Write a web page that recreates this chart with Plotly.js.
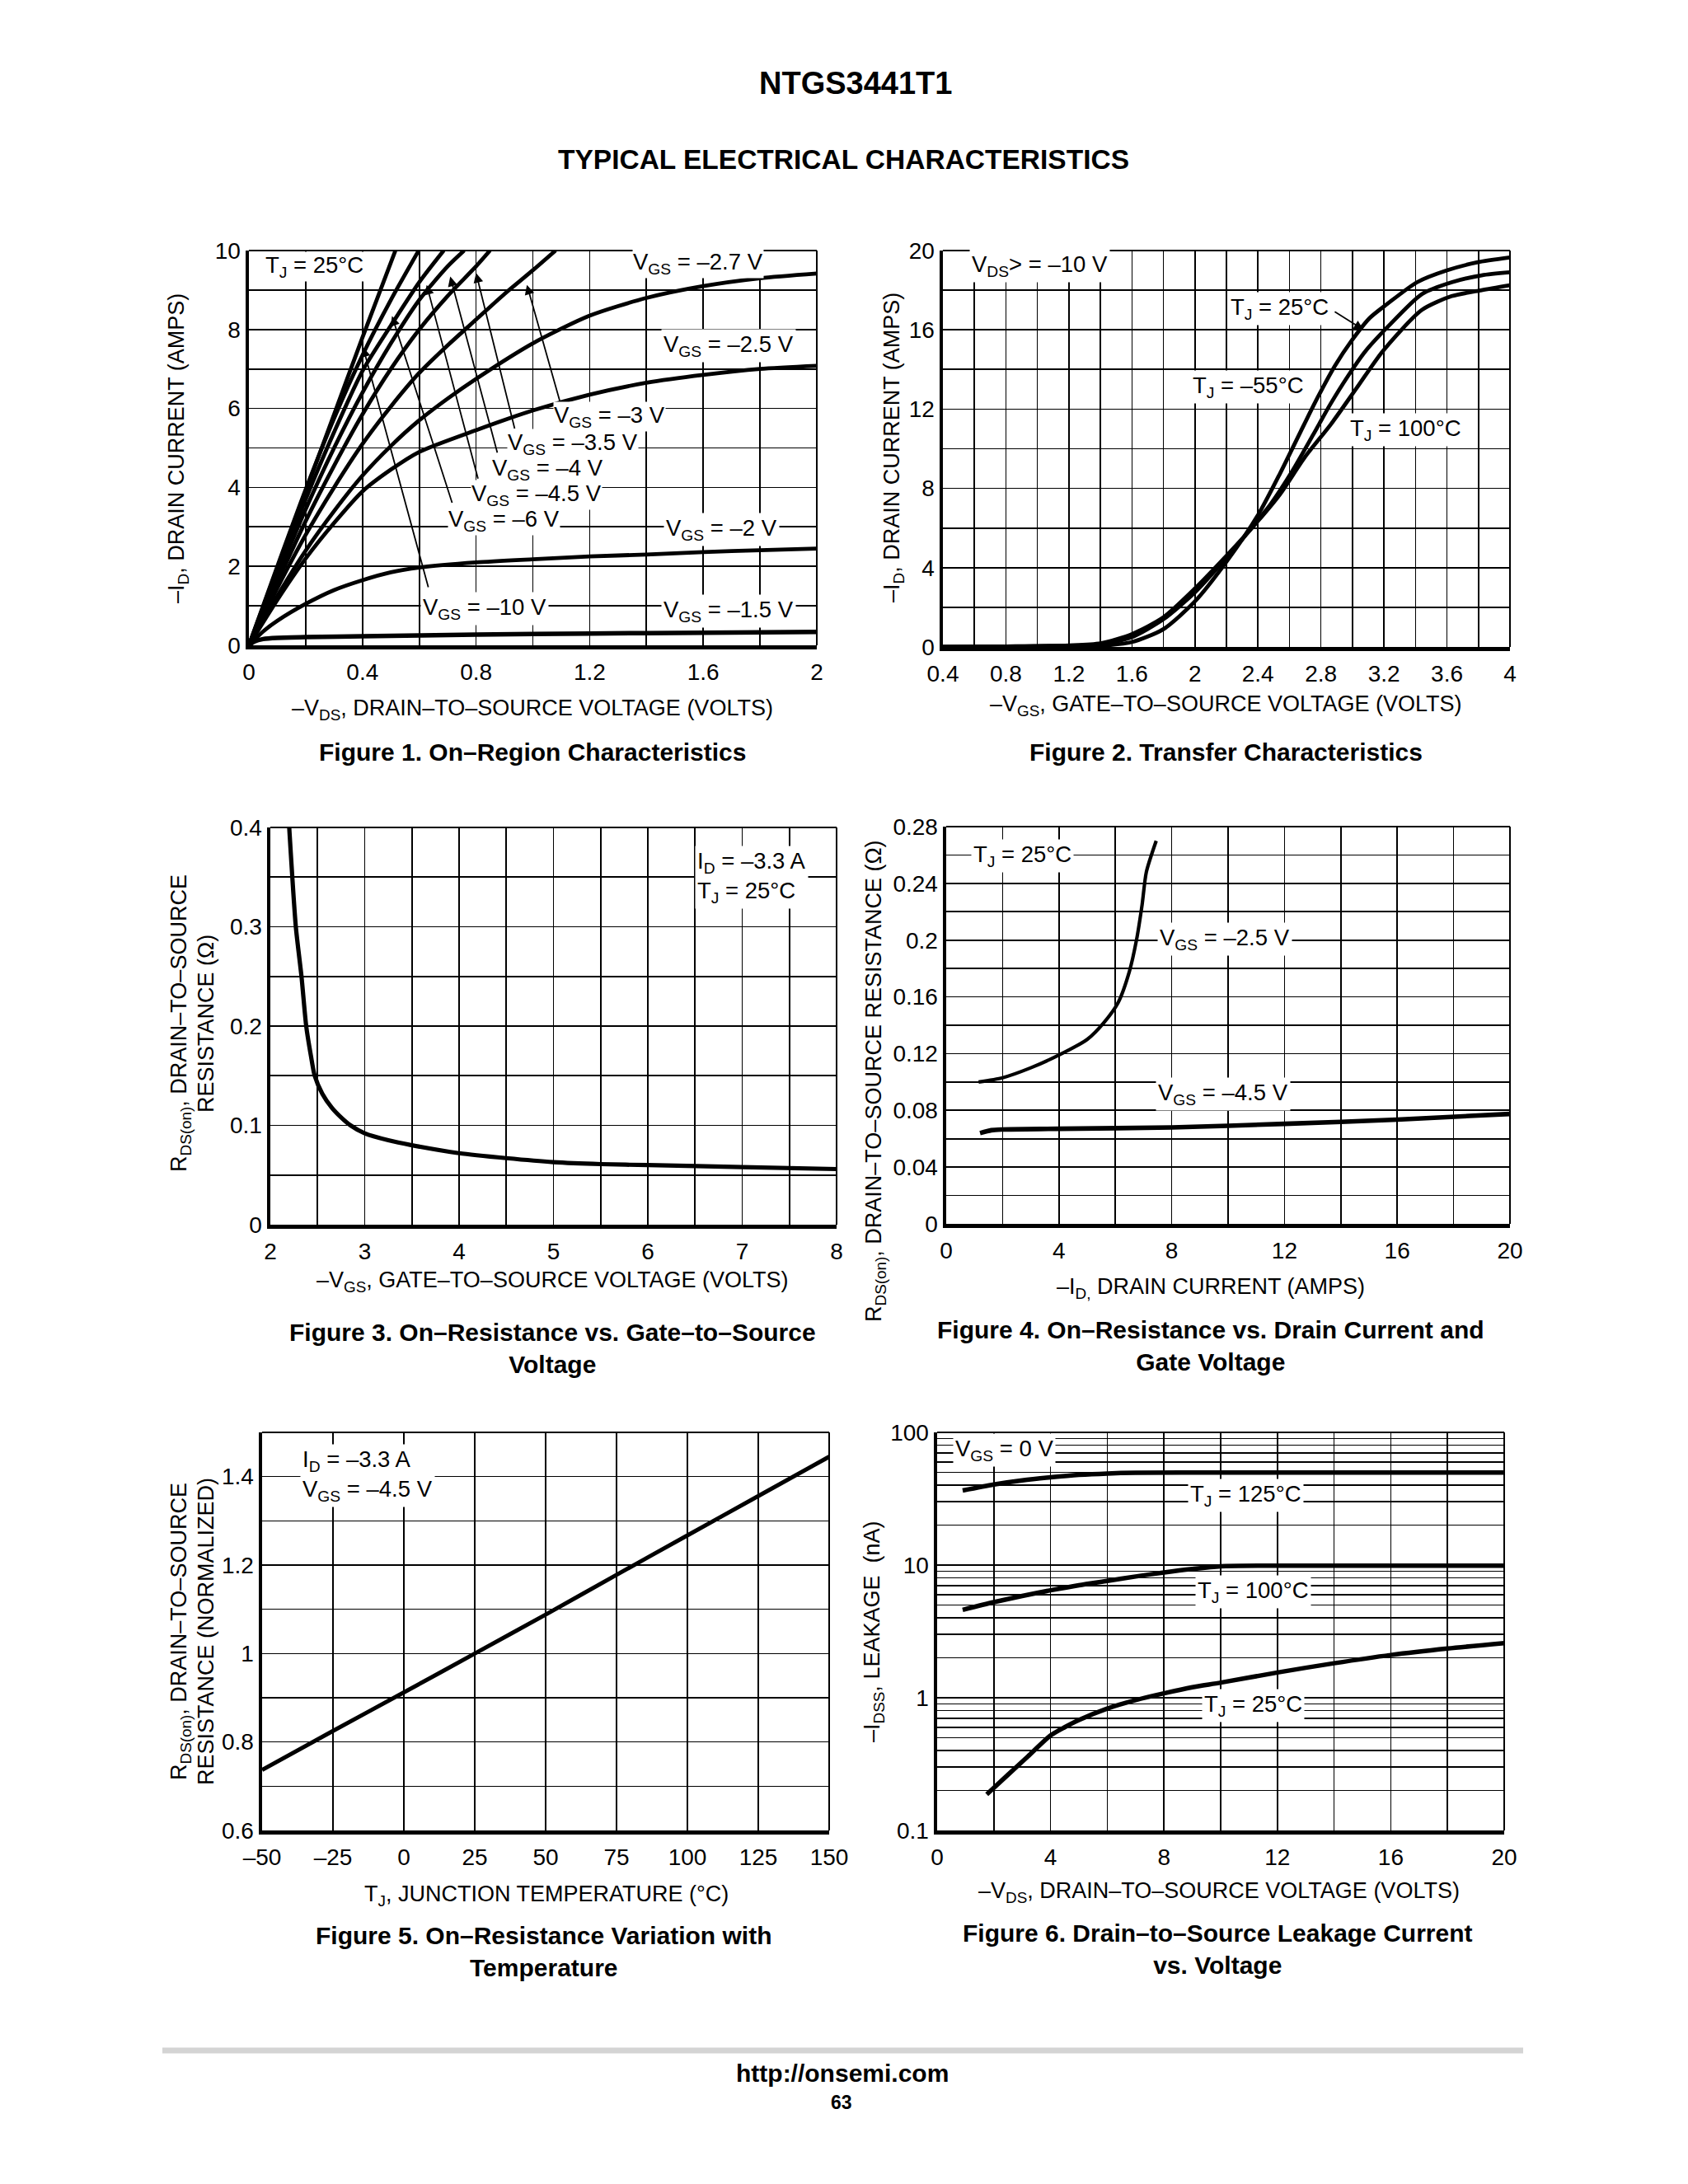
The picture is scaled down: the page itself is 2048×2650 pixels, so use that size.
<!DOCTYPE html>
<html>
<head>
<meta charset="utf-8">
<script src="https://cdn.plot.ly/plotly-3.0.1.min.js"></script>
<style>html,body{margin:0;padding:0;background:#fff;}#chart{width:2048px;height:2650px;}</style>
</head>
<body>
<div id="chart"></div>
<script>
const W = 2048, H = 2650;
const px = v => v / W;
const py = v => 1 - v / H;

// ---------- Figure 1: On-Region Characteristics (T_J = 25 C) ----------
const f1_vds_m10  = [0, 0.1, 0.2, 0.3, 0.4, 0.516];
const f1_id_m10   = [0, 1.95, 3.9, 5.85, 7.8, 10];
const f1_vds_m6   = [0, 0.1, 0.2, 0.3, 0.4, 0.5, 0.598];
const f1_id_m6    = [0, 2.0, 3.95, 5.75, 7.35, 8.75, 10];
const f1_vds_m45  = [0, 0.1, 0.2, 0.3, 0.4, 0.5, 0.6, 0.686];
const f1_id_m45   = [0, 1.85, 3.7, 5.4, 6.95, 8.1, 9.2, 10];
const f1_vds_m4   = [0, 0.1, 0.2, 0.3, 0.4, 0.5, 0.6, 0.7, 0.758];
const f1_id_m4    = [0, 1.75, 3.45, 5.0, 6.4, 7.65, 8.75, 9.6, 10];
const f1_vds_m35  = [0, 0.1, 0.2, 0.3, 0.4, 0.5, 0.6, 0.7, 0.8, 0.849];
const f1_id_m35   = [0, 1.6, 3.15, 4.55, 5.85, 7.0, 8.0, 8.85, 9.6, 10];
const f1_vds_m3   = [0, 0.1, 0.2, 0.3, 0.4, 0.5, 0.6, 0.7, 0.8, 0.9, 1.0, 1.08];
const f1_id_m3    = [0, 1.45, 2.8, 4.0, 5.1, 6.05, 6.9, 7.6, 8.25, 8.9, 9.5, 10];
const f1_vds_m27  = [0, 0.1, 0.2, 0.3, 0.4, 0.5, 0.6, 0.7, 0.8, 1.0, 1.2, 1.4, 1.6, 1.8, 2.0];
const f1_id_m27   = [0, 1.25, 2.4, 3.4, 4.3, 5.05, 5.7, 6.25, 6.75, 7.65, 8.35, 8.8, 9.1, 9.3, 9.42];
const f1_vds_m25  = [0, 0.1, 0.2, 0.3, 0.4, 0.5, 0.6, 0.8, 1.0, 1.2, 1.4, 1.6, 1.8, 2.0];
const f1_id_m25   = [0, 1.15, 2.2, 3.1, 3.9, 4.45, 4.9, 5.45, 5.95, 6.35, 6.65, 6.85, 7.0, 7.08];
const f1_vds_m2   = [0, 0.05, 0.1, 0.2, 0.3, 0.4, 0.5, 0.6, 0.8, 1.0, 1.2, 1.4, 1.6, 1.8, 2.0];
const f1_id_m2    = [0, 0.35, 0.62, 1.05, 1.4, 1.65, 1.85, 1.97, 2.1, 2.18, 2.25, 2.3, 2.36, 2.41, 2.45];
const f1_vds_m15  = [0, 0.02, 0.05, 0.1, 0.2, 0.4, 0.8, 1.2, 1.6, 2.0];
const f1_id_m15   = [0, 0.1, 0.16, 0.19, 0.21, 0.23, 0.27, 0.3, 0.32, 0.34];

const f1_xticks = [0, 0.4, 0.8, 1.2, 1.6, 2];
const f1_xlabels = ['0', '0.4', '0.8', '1.2', '1.6', '2'];
const f1_xminor = [0.2, 0.6, 1.0, 1.4, 1.8];
const f1_yticks = [0, 2, 4, 6, 8, 10];
const f1_ylabels = ['0', '2', '4', '6', '8', '10'];
const f1_yminor = [1, 3, 5, 7, 9];

// ---------- Figure 2: Transfer Characteristics ----------
const f2_vgs_m55 = [0.4, 0.8, 1.2, 1.4, 1.6, 1.8, 2.0, 2.2, 2.4, 2.54, 2.67, 2.78, 2.89, 2.99, 3.11, 3.22, 3.41, 3.6, 3.79, 4.0];
const f2_id_m55  = [0, 0.01, 0.04, 0.06, 0.25, 0.9, 2.3, 4.3, 6.65, 8.75, 10.85, 12.6, 14.2, 15.4, 16.6, 17.3, 18.4, 19.0, 19.4, 19.65];
const f2_vgs_25  = [0.4, 0.8, 1.2, 1.4, 1.6, 1.8, 2.0, 2.2, 2.4, 2.48, 2.62, 2.75, 2.86, 2.97, 3.08, 3.23, 3.44, 3.63, 3.82, 4.0];
const f2_id_25   = [0, 0.02, 0.06, 0.12, 0.5, 1.4, 2.75, 4.5, 6.4, 7.2, 8.9, 10.7, 12.25, 13.65, 14.9, 16.2, 17.8, 18.4, 18.75, 18.9];
const f2_vgs_100 = [0.4, 0.8, 1.2, 1.4, 1.6, 1.8, 2.0, 2.2, 2.4, 2.54, 2.7, 2.86, 3.03, 3.19, 3.44, 3.63, 3.82, 4.0];
const f2_id_100  = [0, 0.03, 0.08, 0.18, 0.65, 1.5, 2.95, 4.6, 6.35, 7.7, 9.6, 11.2, 13.1, 14.9, 17.0, 17.7, 18.0, 18.25];

const f2_xticks = [0.4, 0.8, 1.2, 1.6, 2.0, 2.4, 2.8, 3.2, 3.6, 4.0];
const f2_xlabels = ['0.4', '0.8', '1.2', '1.6', '2', '2.4', '2.8', '3.2', '3.6', '4'];
const f2_xminor = [0.6, 1.0, 1.4, 1.8, 2.2, 2.6, 3.0, 3.4, 3.8];
const f2_yticks = [0, 4, 8, 12, 16, 20];
const f2_ylabels = ['0', '4', '8', '12', '16', '20'];
const f2_yminor = [2, 6, 10, 14, 18];

// ---------- Figure 3: On-Resistance vs. Gate-to-Source Voltage ----------
const f3_vgs  = [2.2, 2.27, 2.33, 2.38, 2.43, 2.47, 2.55, 2.65, 2.75, 2.85, 3.0, 3.25, 3.5, 4.0, 4.5, 5.0, 5.5, 6.0, 7.0, 8.0];
const f3_rds  = [0.4, 0.3, 0.25, 0.2, 0.17, 0.15, 0.132, 0.118, 0.108, 0.1, 0.092, 0.085, 0.08, 0.072, 0.067, 0.063, 0.061, 0.06, 0.058, 0.056];
const f3_xticks = [2, 3, 4, 5, 6, 7, 8];
const f3_xlabels = ['2', '3', '4', '5', '6', '7', '8'];
const f3_xminor = [2.5, 3.5, 4.5, 5.5, 6.5, 7.5];
const f3_yticks = [0, 0.1, 0.2, 0.3, 0.4];
const f3_ylabels = ['0', '0.1', '0.2', '0.3', '0.4'];
const f3_yminor = [0.05, 0.15, 0.25, 0.35];

// ---------- Figure 4: On-Resistance vs. Drain Current and Gate Voltage ----------
const f4_id_m25  = [1.15, 2, 3, 4, 5, 5.6, 6.1, 6.5, 6.75, 6.95, 7.1, 7.45];
const f4_rds_m25 = [0.1, 0.103, 0.11, 0.119, 0.13, 0.142, 0.156, 0.178, 0.2, 0.225, 0.248, 0.27];
const f4_id_m45  = [1.2, 1.6, 2, 4, 8, 12, 16, 20];
const f4_rds_m45 = [0.064, 0.066, 0.0665, 0.067, 0.068, 0.0705, 0.0735, 0.0775];
const f4_xticks = [0, 4, 8, 12, 16, 20];
const f4_xlabels = ['0', '4', '8', '12', '16', '20'];
const f4_xminor = [2, 6, 10, 14, 18];
const f4_yticks = [0, 0.04, 0.08, 0.12, 0.16, 0.2, 0.24, 0.28];
const f4_ylabels = ['0', '0.04', '0.08', '0.12', '0.16', '0.2', '0.24', '0.28'];
const f4_yminor = [0.02, 0.06, 0.1, 0.14, 0.18, 0.22, 0.26];

// ---------- Figure 5: On-Resistance Variation with Temperature ----------
const f5_tj   = [-50, -25, 0, 25, 50, 75, 100, 125, 150];
const f5_rdsn = [0.737, 0.825, 0.912, 1.0, 1.088, 1.178, 1.267, 1.356, 1.445];
const f5_xticks = [-50, -25, 0, 25, 50, 75, 100, 125, 150];
const f5_xlabels = ['–50', '–25', '0', '25', '50', '75', '100', '125', '150'];
const f5_yticks = [0.6, 0.8, 1.0, 1.2, 1.4];
const f5_ylabels = ['0.6', '0.8', '1', '1.2', '1.4'];
const f5_yminor = [0.7, 0.9, 1.1, 1.3, 1.5];

// ---------- Figure 6: Drain-to-Source Leakage Current vs. Voltage ----------
const f6_vds_125  = [0.9, 2, 3, 4, 5, 6, 7, 10, 14, 20];
const f6_idss_125 = [36.5, 40.5, 43.5, 45.8, 47.8, 49, 49.6, 49.8, 49.8, 49.8];
const f6_vds_100  = [0.9, 2, 3, 4, 5, 6, 7, 8, 9, 10, 12, 16, 20];
const f6_idss_100 = [4.6, 5.25, 5.85, 6.45, 7.05, 7.6, 8.2, 8.8, 9.35, 9.8, 9.9, 9.9, 9.9];
const f6_vds_25   = [1.75, 2.5, 3.2, 4.0, 4.5, 5.0, 6.0, 7.0, 8.0, 9.0, 10, 12, 14, 16, 18, 20];
const f6_idss_25  = [0.187, 0.263, 0.361, 0.52, 0.6, 0.68, 0.83, 0.96, 1.08, 1.2, 1.3, 1.55, 1.82, 2.1, 2.35, 2.58];
const f6_xticks = [0, 4, 8, 12, 16, 20];
const f6_xlabels = ['0', '4', '8', '12', '16', '20'];
const f6_xminor = [2, 6, 10, 14, 18];
const f6_yticks = [0.1, 1, 10, 100];
const f6_ylabels = ['0.1', '1', '10', '100'];
const f6_yminor = [0.2, 0.3, 0.4, 0.5, 0.6, 0.7, 0.8, 0.9, 2, 3, 4, 5, 6, 7, 8, 9, 20, 30, 40, 50, 60, 70, 80, 90];

// ---------- Traces ----------
function curve(x, y, n, w) {
  return {
    x: x, y: y, xaxis: 'x' + (n === 1 ? '' : n), yaxis: 'y' + (n === 1 ? '' : n),
    type: 'scatter', mode: 'lines', hoverinfo: 'skip',
    line: {color: '#000', width: w || 4.8, shape: 'spline', smoothing: 0.7}
  };
}
const traces = [
  curve(f1_vds_m10, f1_id_m10, 1), curve(f1_vds_m6, f1_id_m6, 1), curve(f1_vds_m45, f1_id_m45, 1),
  curve(f1_vds_m4, f1_id_m4, 1), curve(f1_vds_m35, f1_id_m35, 1), curve(f1_vds_m3, f1_id_m3, 1),
  curve(f1_vds_m27, f1_id_m27, 1), curve(f1_vds_m25, f1_id_m25, 1), curve(f1_vds_m2, f1_id_m2, 1),
  curve(f1_vds_m15, f1_id_m15, 1, 5.5),
  curve(f2_vgs_m55, f2_id_m55, 2), curve(f2_vgs_25, f2_id_25, 2), curve(f2_vgs_100, f2_id_100, 2),
  curve(f3_vgs, f3_rds, 3, 5.2),
  curve(f4_id_m25, f4_rds_m25, 4, 4.2), curve(f4_id_m45, f4_rds_m45, 4, 5.6),
  curve(f5_tj, f5_rdsn, 5, 5),
  curve(f6_vds_125, f6_idss_125, 6, 5.5), curve(f6_vds_100, f6_idss_100, 6, 5.5), curve(f6_vds_25, f6_idss_25, 6, 5.5)
];

// ---------- Axes ----------
const FONT = 'Liberation Sans, Arial, Helvetica, sans-serif';
function axis(domain, anchor, range, vals, text, minorVals, isX, extra) {
  const a = {
    domain: domain, anchor: anchor, range: range,
    tickmode: 'array', tickvals: vals, ticktext: text,
    showgrid: true, gridcolor: '#000', gridwidth: 1.6,
    showline: true, linecolor: '#000', linewidth: 4.5, mirror: false,
    zeroline: false, ticks: '', fixedrange: true,
    ticklabelstandoff: isX ? 4 : 0,
    tickfont: {family: FONT, size: 28, color: '#000'}
  };
  if (minorVals && minorVals.length) {
    a.minor = {tickmode: 'array', tickvals: minorVals, ticks: '', showgrid: true, gridcolor: '#000', gridwidth: 1.6};
  }
  return Object.assign(a, extra || {});
}

const D = {
  1: {x: [px(302), px(991)],  y: [py(783), py(304)]},
  2: {x: [px(1144), px(1832)], y: [py(785), py(304)]},
  3: {x: [px(328), px(1015)], y: [py(1486), py(1004)]},
  4: {x: [px(1148), px(1832)], y: [py(1485), py(1003)]},
  5: {x: [px(318), px(1006)], y: [py(2221), py(1738)]},
  6: {x: [px(1137), px(1825)], y: [py(2221), py(1738)]}
};

const layout = {
  width: W, height: H,
  margin: {l: 0, r: 0, t: 0, b: 0, pad: 0},
  paper_bgcolor: '#fff', plot_bgcolor: '#fff',
  showlegend: false,
  font: {family: FONT, color: '#000', size: 27},
  xaxis:  axis(D[1].x, 'y',  [0, 2],     f1_xticks, f1_xlabels, f1_xminor, true),
  yaxis:  axis(D[1].y, 'x',  [0, 10],    f1_yticks, f1_ylabels, f1_yminor, false),
  xaxis2: axis(D[2].x, 'y2', [0.4, 4],   f2_xticks, f2_xlabels, f2_xminor, true),
  yaxis2: axis(D[2].y, 'x2', [0, 20],    f2_yticks, f2_ylabels, f2_yminor, false),
  xaxis3: axis(D[3].x, 'y3', [2, 8],     f3_xticks, f3_xlabels, f3_xminor, true),
  yaxis3: axis(D[3].y, 'x3', [0, 0.4],   f3_yticks, f3_ylabels, f3_yminor, false),
  xaxis4: axis(D[4].x, 'y4', [0, 20],    f4_xticks, f4_xlabels, f4_xminor, true),
  yaxis4: axis(D[4].y, 'x4', [0, 0.28],  f4_yticks, f4_ylabels, f4_yminor, false),
  xaxis5: axis(D[5].x, 'y5', [-50, 150], f5_xticks, f5_xlabels, null, true),
  yaxis5: axis(D[5].y, 'x5', [0.6, 1.5], f5_yticks, f5_ylabels, f5_yminor, false),
  xaxis6: axis(D[6].x, 'y6', [0, 20],    f6_xticks, f6_xlabels, f6_xminor, true),
  yaxis6: axis(D[6].y, 'x6', [-1, 2],    f6_yticks, f6_ylabels, f6_yminor, false, {type: 'log'}),
  shapes: [],
  annotations: []
};

// thin right / top frame lines of every plot
for (let i = 1; i <= 6; i++) {
  const s = i === 1 ? '' : String(i);
  layout.shapes.push({type: 'line', xref: 'x' + s + ' domain', yref: 'y' + s + ' domain', x0: 1, x1: 1, y0: 0, y1: 1, line: {color: '#000', width: 2}});
  layout.shapes.push({type: 'line', xref: 'x' + s + ' domain', yref: 'y' + s + ' domain', x0: 0, x1: 1, y0: 1, y1: 1, line: {color: '#000', width: 2}});
}
// footer rule
layout.shapes.push({type: 'line', xref: 'paper', yref: 'paper', x0: px(197), x1: px(1848), y0: py(2488), y1: py(2488), line: {color: '#d4d4d4', width: 7}});

const A = layout.annotations;
function txt(text, x, y, opts) {
  A.push(Object.assign({text: text, x: x, y: y, xref: 'paper', yref: 'paper', showarrow: false,
    xanchor: 'center', yanchor: 'middle', font: {family: FONT, size: 27, color: '#000'}}, opts || {}));
}
function lab(n, text, x, y, opts) {
  const s = n === 1 ? '' : String(n);
  A.push(Object.assign({text: text, x: x, y: y, xref: 'x' + s, yref: 'y' + s, showarrow: false,
    xanchor: 'center', yanchor: 'middle', bgcolor: '#fff', borderpad: 2,
    font: {family: FONT, size: 27.5, color: '#000'}}, opts || {}));
}
function arrow(n, tx, ty, hx, hy) {
  const s = n === 1 ? '' : String(n);
  A.push({text: '', x: hx, y: hy, ax: tx, ay: ty, xref: 'x' + s, yref: 'y' + s, axref: 'x' + s, ayref: 'y' + s,
    showarrow: true, arrowhead: 2, arrowsize: 1.3, arrowwidth: 1.8, arrowcolor: '#000', standoff: 0});
}
const BOLD = s => ({family: FONT, size: s, color: '#000'});
const TIGHT = {borderpad: 0};

// page titles
txt('<b>NTGS3441T1</b>', px(1038), py(101), {font: BOLD(38)});
txt('<b>TYPICAL ELECTRICAL CHARACTERISTICS</b>', px(1023), py(194), {font: BOLD(33.5)});

// Figure 1 texts (lower labels first so upper boxes do not hide them)
lab(1, 'V<sub>GS</sub> = –1.5 V', 1.689, 0.87);
lab(1, 'V<sub>GS</sub> = –10 V', 0.831, 0.92);
lab(1, 'V<sub>GS</sub> = –2 V', 1.666, 2.93);
lab(1, 'V<sub>GS</sub> = –6 V', 0.899, 3.17, TIGHT);
lab(1, 'V<sub>GS</sub> = –4.5 V', 1.013, 3.80, TIGHT);
lab(1, 'V<sub>GS</sub> = –4 V', 1.051, 4.45, TIGHT);
lab(1, 'V<sub>GS</sub> = –3.5 V', 1.142, 5.11, TIGHT);
lab(1, 'V<sub>GS</sub> = –3 V', 1.271, 5.80, TIGHT);
lab(1, 'V<sub>GS</sub> = –2.5 V', 1.689, 7.58);
lab(1, 'V<sub>GS</sub> = –2.7 V', 1.582, 9.68, TIGHT);
lab(1, 'T<sub>J</sub> = 25°C', 0.231, 9.6, TIGHT);
arrow(1, 1.096, 6.16, 0.979, 9.13);
arrow(1, 0.937, 5.46, 0.800, 9.43);
arrow(1, 0.876, 4.85, 0.709, 9.34);
arrow(1, 0.808, 4.19, 0.626, 9.13);
arrow(1, 0.717, 3.58, 0.504, 8.34);
arrow(1, 0.633, 1.44, 0.402, 7.55);
txt('–V<sub>DS</sub>, DRAIN–TO–SOURCE VOLTAGE (VOLTS)', px(646), py(861));
txt('–I<sub>D</sub>, DRAIN CURRENT (AMPS)', px(216), py(544), {textangle: -90});
txt('<b>Figure 1. On–Region Characteristics</b>', px(646), py(913), {font: BOLD(30)});

// Figure 2 texts
lab(2, 'V<sub>DS</sub>> = –10 V', 1.016, 19.25);
lab(2, 'T<sub>J</sub> = 25°C', 2.535, 17.06);
lab(2, 'T<sub>J</sub> = –55°C', 2.34, 13.12);
lab(2, 'T<sub>J</sub> = 100°C', 3.34, 10.94);
arrow(2, 2.88, 16.95, 3.07, 16.0);
txt('–V<sub>GS</sub>, GATE–TO–SOURCE VOLTAGE (VOLTS)', px(1487), py(856));
txt('–I<sub>D</sub>, DRAIN CURRENT (AMPS)', px(1084), py(543), {textangle: -90});
txt('<b>Figure 2. Transfer Characteristics</b>', px(1487), py(913), {font: BOLD(30)});

// Figure 3 texts
lab(3, 'I<sub>D</sub> = –3.3 A<br>T<sub>J</sub> = 25°C', 6.5, 0.35, {xanchor: 'left', align: 'left'});
txt('–V<sub>GS</sub>, GATE–TO–SOURCE VOLTAGE (VOLTS)', px(670), py(1555));
txt('R<sub>DS(on)</sub>, DRAIN–TO–SOURCE', px(219), py(1242), {textangle: -90});
txt('RESISTANCE (Ω)', px(250), py(1242), {textangle: -90});
txt('<b>Figure 3. On–Resistance vs. Gate–to–Source<br>Voltage</b>', px(670), py(1636), {font: BOLD(30)});

// Figure 4 texts
lab(4, 'T<sub>J</sub> = 25°C', 2.70, 0.2596);
lab(4, 'V<sub>GS</sub> = –2.5 V', 9.88, 0.2008);
lab(4, 'V<sub>GS</sub> = –4.5 V', 9.81, 0.0916);
txt('–I<sub>D,</sub> DRAIN CURRENT (AMPS)', px(1469), py(1563));
txt('R<sub>DS(on)</sub>, DRAIN–TO–SOURCE RESISTANCE (Ω)', px(1062), py(1312), {textangle: -90});
txt('<b>Figure 4. On–Resistance vs. Drain Current and<br>Gate Voltage</b>', px(1469), py(1633), {font: BOLD(30)});

// Figure 5 texts
lab(5, 'I<sub>D</sub> = –3.3 A<br>V<sub>GS</sub> = –4.5 V', -36.7, 1.402, {xanchor: 'left', align: 'left'});
txt('T<sub>J</sub>, JUNCTION TEMPERATURE (°C)', px(663), py(2300));
txt('R<sub>DS(on)</sub>, DRAIN–TO–SOURCE', px(219), py(1980), {textangle: -90});
txt('RESISTANCE (NORMALIZED)', px(250), py(1980), {textangle: -90});
txt('<b>Figure 5. On–Resistance Variation with<br>Temperature</b>', px(660), py(2368), {font: BOLD(30)});

// Figure 6 texts (log axis -> annotation y in log10 units)
lab(6, 'V<sub>GS</sub> = 0 V', 2.38, Math.log10(74));
lab(6, 'T<sub>J</sub> = 125°C', 10.9, Math.log10(33.7));
lab(6, 'T<sub>J</sub> = 100°C', 11.15, Math.log10(6.3));
lab(6, 'T<sub>J</sub> = 25°C', 11.15, Math.log10(0.87));
txt('–V<sub>DS</sub>, DRAIN–TO–SOURCE VOLTAGE (VOLTS)', px(1479), py(2296));
txt('–I<sub>DSS</sub>, LEAKAGE\u00a0\u00a0(nA)', px(1060), py(1980), {textangle: -90});
txt('<b>Figure 6. Drain–to–Source Leakage Current<br>vs. Voltage</b>', px(1477), py(2365), {font: BOLD(30)});

// footer
txt('<b>http://onsemi.com</b>', px(1022), py(2515), {font: BOLD(30)});
txt('<b>63</b>', px(1021), py(2551), {font: BOLD(23)});

Plotly.newPlot('chart', traces, layout, {displayModeBar: false, staticPlot: true});
</script>
</body>
</html>
